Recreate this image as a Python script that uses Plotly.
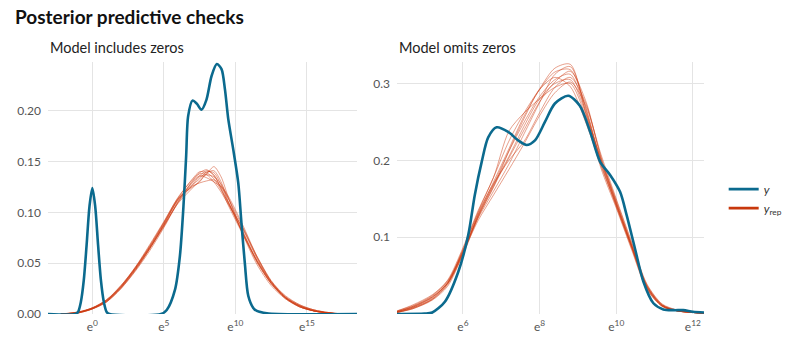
import plotly.graph_objects as go

# ---------------- data (log scale units, density) ----------------
# Left panel: model includes zeros
left_y_u = [-3.1, -1.2, -1.0, -0.8, -0.6, -0.4, -0.2, 0, 0.2, 0.4, 0.6, 0.8, 1.0, 1.2,
            4.8, 5.2, 5.78, 6.12, 6.37, 6.56, 6.7, 7.0, 7.3, 7.63, 7.98, 8.33, 8.7, 9.03,
            9.27, 9.5, 9.85, 10.2, 10.42, 10.66, 10.9, 11.25, 11.5, 12.2, 13, 18.5]
left_y_d = [0, 0, 0.002, 0.012, 0.033, 0.068, 0.106, 0.124, 0.106, 0.068, 0.033, 0.012, 0.002, 0,
            0, 0.004, 0.024, 0.057, 0.106, 0.156, 0.195, 0.21, 0.207, 0.201, 0.211, 0.234, 0.246, 0.241,
            0.221, 0.192, 0.162, 0.129, 0.09, 0.05, 0.018, 0.006, 0.003, 0.0007, 0, 0]

left_rep_u = [-2.2, -1, 0, 1, 2, 3, 4, 5, 6, 7, 7.5, 8, 8.5, 9, 9.5, 10.5, 11.5, 12.5, 13.5, 14.5, 15.5, 16.5, 17.5]
left_rep_d = [
    [0, 0.0015, 0.006, 0.014, 0.028, 0.046, 0.066, 0.089, 0.113, 0.127, 0.133, 0.140, 0.139, 0.127, 0.110, 0.080, 0.051, 0.030, 0.016, 0.007, 0.003, 0.001, 0],
    [0, 0.001, 0.005, 0.012, 0.025, 0.043, 0.064, 0.087, 0.109, 0.124, 0.131, 0.138, 0.145, 0.135, 0.115, 0.079, 0.049, 0.028, 0.015, 0.007, 0.003, 0.001, 0],
    [0, 0.002, 0.006, 0.013, 0.027, 0.045, 0.066, 0.090, 0.115, 0.132, 0.138, 0.137, 0.130, 0.120, 0.108, 0.085, 0.057, 0.033, 0.017, 0.008, 0.004, 0.001, 0],
    [0, 0.0015, 0.005, 0.012, 0.025, 0.042, 0.062, 0.085, 0.110, 0.130, 0.136, 0.134, 0.130, 0.125, 0.114, 0.086, 0.056, 0.032, 0.016, 0.008, 0.003, 0.001, 0],
    [0, 0.001, 0.005, 0.013, 0.027, 0.046, 0.068, 0.091, 0.114, 0.125, 0.130, 0.139, 0.141, 0.130, 0.111, 0.080, 0.052, 0.031, 0.017, 0.009, 0.004, 0.0015, 0],
    [0, 0.002, 0.006, 0.014, 0.027, 0.044, 0.064, 0.086, 0.111, 0.131, 0.139, 0.142, 0.136, 0.124, 0.109, 0.081, 0.053, 0.030, 0.015, 0.007, 0.003, 0.001, 0],
    [0, 0.0015, 0.0055, 0.013, 0.026, 0.044, 0.065, 0.088, 0.112, 0.126, 0.129, 0.131, 0.132, 0.126, 0.116, 0.088, 0.057, 0.032, 0.016, 0.007, 0.003, 0.001, 0],
    [0, 0.001, 0.005, 0.012, 0.026, 0.045, 0.067, 0.090, 0.113, 0.129, 0.136, 0.141, 0.137, 0.123, 0.107, 0.079, 0.053, 0.032, 0.018, 0.009, 0.004, 0.0015, 0],
    [0, 0.0015, 0.006, 0.014, 0.028, 0.045, 0.065, 0.087, 0.110, 0.127, 0.135, 0.137, 0.135, 0.128, 0.114, 0.082, 0.052, 0.030, 0.016, 0.008, 0.003, 0.001, 0],
    [0, 0.0015, 0.0055, 0.013, 0.026, 0.043, 0.064, 0.088, 0.114, 0.133, 0.140, 0.139, 0.133, 0.122, 0.110, 0.084, 0.055, 0.031, 0.016, 0.008, 0.003, 0.001, 0],
]

# Right panel: model omits zeros
right_y_u = [4.28, 5.0, 5.2, 5.53, 5.88, 6.14, 6.31, 6.49, 6.66, 6.88, 7.18, 7.44, 7.66, 7.88, 8.14,
             8.4, 8.75, 9.05, 9.32, 9.58, 9.84, 10.1, 10.27, 10.49, 10.71, 10.97, 11.23, 11.5, 11.75, 12.0, 12.29]
right_y_d = [0, 0.0005, 0.002, 0.016, 0.055, 0.103, 0.155, 0.198, 0.23, 0.243, 0.237, 0.226, 0.22, 0.226, 0.25,
             0.274, 0.284, 0.271, 0.237, 0.198, 0.181, 0.159, 0.129, 0.085, 0.042, 0.014, 0.006, 0.005, 0.005, 0.003, 0.002]

right_rep_u = [4.28, 4.7, 5.2, 5.6, 6.0, 6.4, 6.8, 7.2, 7.6, 8.0, 8.4, 8.8, 9.2, 9.6, 10.0, 10.4, 10.8, 11.2, 11.6, 12.0, 12.29]
right_rep_d = [
    [0.003, 0.009, 0.022, 0.040, 0.080, 0.128, 0.168, 0.205, 0.245, 0.280, 0.300, 0.305, 0.262, 0.200, 0.145, 0.090, 0.036, 0.011, 0.004, 0.002, 0.001],
    [0.002, 0.007, 0.018, 0.036, 0.078, 0.130, 0.172, 0.215, 0.258, 0.292, 0.315, 0.318, 0.270, 0.198, 0.140, 0.086, 0.033, 0.010, 0.004, 0.002, 0.001],
    [0.004, 0.011, 0.024, 0.044, 0.086, 0.135, 0.178, 0.238, 0.262, 0.280, 0.295, 0.300, 0.258, 0.202, 0.148, 0.092, 0.038, 0.012, 0.005, 0.002, 0.001],
    [0.002, 0.008, 0.020, 0.040, 0.082, 0.125, 0.160, 0.195, 0.235, 0.275, 0.312, 0.322, 0.268, 0.195, 0.142, 0.088, 0.034, 0.010, 0.004, 0.002, 0.001],
    [0.003, 0.010, 0.023, 0.042, 0.084, 0.132, 0.170, 0.200, 0.225, 0.262, 0.295, 0.308, 0.275, 0.205, 0.146, 0.090, 0.037, 0.012, 0.004, 0.002, 0.001],
    [0.002, 0.008, 0.019, 0.038, 0.079, 0.127, 0.165, 0.212, 0.255, 0.292, 0.308, 0.296, 0.250, 0.193, 0.141, 0.087, 0.035, 0.011, 0.004, 0.002, 0.001],
    [0.003, 0.009, 0.021, 0.041, 0.083, 0.133, 0.178, 0.225, 0.262, 0.293, 0.320, 0.325, 0.262, 0.190, 0.138, 0.084, 0.032, 0.010, 0.004, 0.002, 0.001],
    [0.004, 0.012, 0.025, 0.043, 0.080, 0.122, 0.155, 0.188, 0.222, 0.258, 0.288, 0.302, 0.272, 0.208, 0.150, 0.094, 0.039, 0.013, 0.005, 0.002, 0.001],
    [0.002, 0.007, 0.019, 0.039, 0.081, 0.129, 0.169, 0.212, 0.250, 0.283, 0.305, 0.312, 0.265, 0.199, 0.144, 0.089, 0.035, 0.011, 0.004, 0.002, 0.001],
    [0.003, 0.010, 0.022, 0.040, 0.077, 0.126, 0.166, 0.203, 0.240, 0.276, 0.302, 0.316, 0.278, 0.203, 0.143, 0.088, 0.036, 0.011, 0.004, 0.002, 0.001],
]

left_xticks = [0, 5, 10, 15]
right_xticks = [6, 8, 10, 12]
left_yticks = [0, 0.05, 0.10, 0.15, 0.20]
left_ytext = ["0.00", "0.05", "0.10", "0.15", "0.20"]
right_yticks = [0.1, 0.2, 0.3]
right_ytext = ["0.1", "0.2", "0.3"]

title = "Posterior predictive checks"
subtitles = ["Model includes zeros", "Model omits zeros"]

# ---------------- style ----------------
BLUE = "#0b6a8e"
RED = "rgba(204,55,12,0.6)"
RED_LEG = "#c8380c"
FONT = "Lato"
GRID = "#e4e4e4"

fig = go.Figure()

def add_panel(xa, ya, rep_u, rep_d, y_u, y_d):
    for d in rep_d:
        fig.add_trace(go.Scatter(
            x=rep_u, y=d, mode="lines", xaxis=xa, yaxis=ya,
            line=dict(color=RED, width=0.8, shape="spline", smoothing=0.8),
            name="<i>y</i><sub>rep</sub>", showlegend=False, hoverinfo="skip"))
    fig.add_trace(go.Scatter(
        x=y_u, y=y_d, mode="lines", xaxis=xa, yaxis=ya,
        line=dict(color=BLUE, width=2.6, shape="spline", smoothing=0.8),
        name="<i>y</i>", showlegend=False, hoverinfo="skip"))

add_panel("x", "y", left_rep_u, left_rep_d, left_y_u, left_y_d)
add_panel("x2", "y2", right_rep_u, right_rep_d, right_y_u, right_y_d)

# legend-only entries
fig.add_trace(go.Scatter(x=[None], y=[None], mode="lines", name="<i>y</i>",
                         line=dict(color=BLUE, width=2.6), showlegend=True))
fig.add_trace(go.Scatter(x=[None], y=[None], mode="lines", name="<i>y</i><sub>rep</sub>",
                         line=dict(color=RED_LEG, width=2.6), showlegend=True))

axis_common = dict(showgrid=True, gridcolor=GRID, gridwidth=1.3, zeroline=False,
                   showline=False, ticks="", tickfont=dict(family=FONT, size=12, color="#555555"))

fig.update_layout(
    width=800, height=350,
    margin=dict(l=48, r=96, t=62, b=36),
    plot_bgcolor="white", paper_bgcolor="white",
    font=dict(family=FONT, color="#222222"),
    title=dict(text="<b>" + title + "</b>", x=15 / 800, xref="container", xanchor="left",
               y=1 - 17 / 350, yref="container", yanchor="middle",
               font=dict(family=FONT, size=19, color="#111111")),
    xaxis=dict(domain=[0, 0.471], range=[-3.1, 18.5], tickvals=left_xticks, ticklabelstandoff=4,
               ticktext=["e<sup>%d</sup>" % t for t in left_xticks], **axis_common),
    yaxis=dict(range=[0, 0.248], tickvals=left_yticks, ticktext=left_ytext, ticklabelstandoff=6,
               **axis_common),
    xaxis2=dict(domain=[0.532, 1], range=[4.28, 12.29], tickvals=right_xticks, ticklabelstandoff=4,
                ticktext=["e<sup>%d</sup>" % t for t in right_xticks], anchor="y2", **axis_common),
    yaxis2=dict(range=[0, 0.328], tickvals=right_yticks, ticktext=right_ytext, anchor="x2",
                ticklabelstandoff=6, **axis_common),
    legend=dict(x=1.03, y=0.458, xanchor="left", yanchor="middle",
                font=dict(family=FONT, size=12, color="#333333"), bgcolor="rgba(0,0,0,0)",
                tracegroupgap=4),
    showlegend=True,
)

for xp, txt in [(0, subtitles[0]), (0.532, subtitles[1])]:
    fig.add_annotation(text=txt, xref="paper", yref="paper", x=xp, y=1.0595,
                       xanchor="left", yanchor="middle", showarrow=False,
                       font=dict(family=FONT, size=14.5, color="#222222"))

fig.write_html("out.html")
